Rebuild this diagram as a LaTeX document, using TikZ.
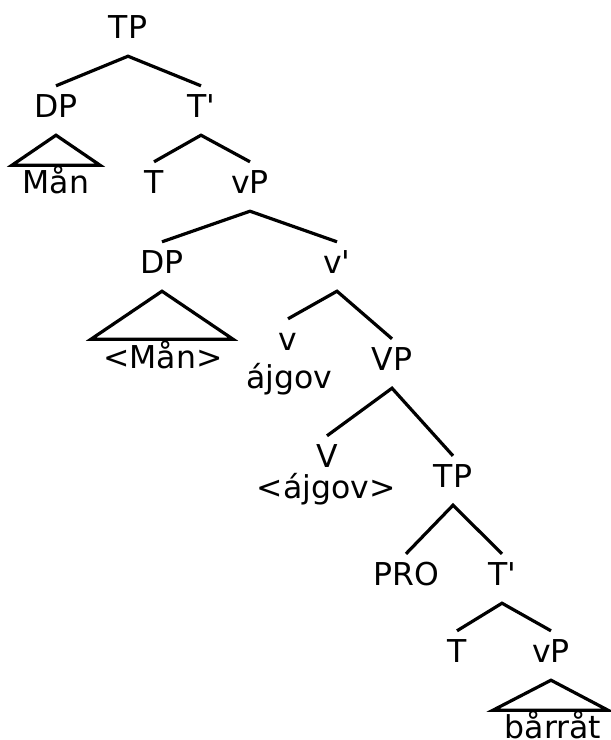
\documentclass[tikz,border=0pt]{standalone}
\usepackage{fontspec}
\newfontfamily\treefont{DejaVu Sans}
\begin{document}
\begin{tikzpicture}[x=1pt,y=-1pt,
  lbl/.style={font=\treefont\fontsize{31.5}{36}\selectfont, anchor=base, inner xsep=0pt,
    inner ysep=8pt, text height=23pt, text depth=10pt},
  leaf/.style={font=\treefont\fontsize{31.5}{36}\selectfont, anchor=base, inner sep=0pt},
  br/.style={line width=3.2pt}]
\useasboundingbox (0,0) rectangle (611,740);
% nodes
\node[lbl] (tp0) at (128,38) {TP};
\node[lbl] (dp1) at (56,117) {DP};
\node[lbl] (tb1) at (201,117) {T'};
\node[leaf] (man1) at (56,193) {Mån};
\node[lbl] (t1) at (154,193) {T};
\node[lbl] (vp1) at (250,193) {vP};
\node[lbl] (dp2) at (162,273) {DP};
\node[lbl] (vb2) at (337,273) {v'};
\node[leaf] (man2) at (163,368) {<Mån>};
\node[lbl] (v2) at (288,350) {v};
\node[leaf] (ajg1) at (289,388) {ájgov};
\node[lbl] (VP) at (392,370) {VP};
\node[lbl] (V) at (327,467) {V};
\node[leaf] (ajg2) at (326,498) {<ájgov>};
\node[lbl] (tp2) at (453,487) {TP};
\node[lbl] (pro) at (406,585) {PRO};
\node[lbl] (tb3) at (502,585) {T'};
\node[lbl] (t3) at (457,662) {T};
\node[lbl] (vp3) at (551,662) {vP};
\node[leaf] (barr) at (553,738) {bårråt};
% branches
\draw[br] (dp1.north) -- (tp0.south) -- (tb1.north);
\draw[br] (t1.north) -- (tb1.south) -- (vp1.north);
\draw[br] (dp2.north) -- (vp1.south) -- (vb2.north);
\draw[br] (v2.north) -- (vb2.south) -- (VP.north);
\draw[br] (V.north) -- (VP.south) -- (tp2.north);
\draw[br] (pro.north) -- (tp2.south) -- (tb3.north);
\draw[br] (t3.north) -- (tb3.south) -- (vp3.north);
% triangles
\draw[br] (dp1.south) -- ++(-44,30) -- ++(88,0) -- cycle;
\draw[br] (dp2.south) -- ++(-71,48) -- ++(142,0) -- cycle;
\draw[br] (vp3.south) -- ++(-58,30) -- ++(115,0) -- cycle;
\end{tikzpicture}
\end{document}
